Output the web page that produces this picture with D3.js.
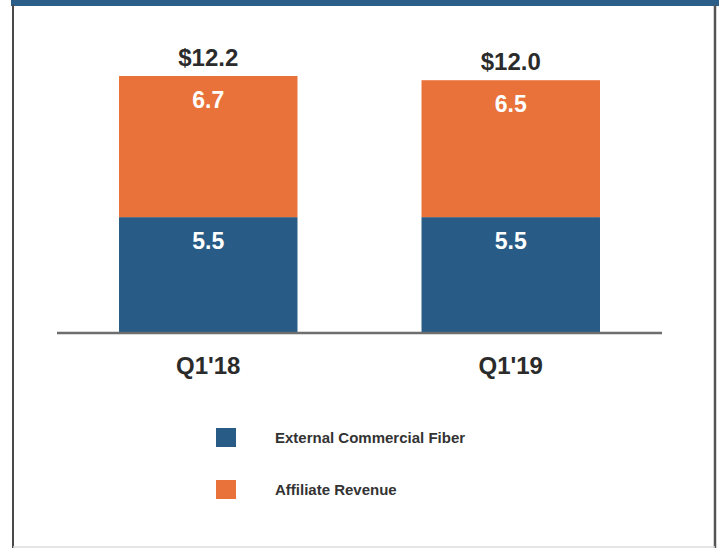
<!DOCTYPE html>
<html><head><meta charset="utf-8">
<script src="https://cdn.jsdelivr.net/npm/d3@7"></script>
<style>html,body{margin:0;padding:0;background:#fff;}svg{display:block;}</style>
</head><body>
<svg id="chart" width="719" height="548"></svg>
<script>
const categories = ["Q1'18", "Q1'19"];
const seriesNames = ["External Commercial Fiber", "Affiliate Revenue"];
const externalFiber = [5.5, 5.5];
const affiliateRevenue = [6.7, 6.5];
const totals = ["$12.2", "$12.0"];
const colors = ["#285c86", "#e8723a"];

const svg = d3.select("#chart");
const font = "'Liberation Sans', Arial, sans-serif";

// frame
svg.append("rect").attr("x", 11).attr("y", 0).attr("width", 708).attr("height", 6).attr("fill", "#2b5e88");
svg.append("line").attr("x1", 13).attr("x2", 13).attr("y1", 5).attr("y2", 548).attr("stroke", "#4a4a4a").attr("stroke-width", 2);
svg.append("line").attr("x1", 715).attr("x2", 715).attr("y1", 5).attr("y2", 548).attr("stroke", "#555").attr("stroke-width", 2.5);
svg.append("line").attr("x1", 13).attr("x2", 715).attr("y1", 547).attr("y2", 547).attr("stroke", "#ddd").attr("stroke-width", 1.5);

const x = d3.scaleBand().domain(categories).range([57, 662]).paddingInner(0.41).paddingOuter(0.205);
const y = d3.scaleLinear().domain([0, 12.2]).range([333, 76]);

const data = categories.map((c, i) => ({cat: c, a: externalFiber[i], b: affiliateRevenue[i], total: totals[i]}));
const stack = d3.stack().keys(["a", "b"])(data);

svg.append("g").selectAll("g").data(stack).join("g")
  .attr("fill", (d, i) => colors[i])
  .selectAll("rect").data(d => d).join("rect")
  .attr("x", d => x(d.data.cat))
  .attr("width", x.bandwidth())
  .attr("y", d => y(d[1]))
  .attr("height", d => y(d[0]) - y(d[1]));

// segment labels
stack.forEach((layer, li) => {
  svg.append("g").selectAll("text").data(layer).join("text")
    .attr("x", d => x(d.data.cat) + x.bandwidth() / 2)
    .attr("y", d => y(d[1]) + 32)
    .attr("text-anchor", "middle")
    .attr("font-family", font).attr("font-weight", "bold").attr("font-size", 23)
    .attr("fill", "#fff")
    .text(d => (d[1] - d[0]).toFixed(1));
});

// totals
svg.append("g").selectAll("text").data(data).join("text")
  .attr("x", d => x(d.cat) + x.bandwidth() / 2)
  .attr("y", d => y(d.a + d.b) - 10.5)
  .attr("text-anchor", "middle")
  .attr("font-family", font).attr("font-weight", "bold").attr("font-size", 24)
  .attr("fill", "#2b2b2b")
  .text(d => d.total);

// axis
const axis = svg.append("g").attr("transform", "translate(0,333)")
  .call(d3.axisBottom(x).tickSize(0).tickPadding(24).tickSizeOuter(0));
axis.select(".domain").attr("stroke", "#6e6e6e").attr("stroke-width", 2.5)
  .attr("d", "M57,0H662");
axis.selectAll("text").attr("font-family", font).attr("font-weight", "bold")
  .attr("font-size", 24).attr("fill", "#2b2b2b").attr("dy", "0.71em");

// legend
const legend = svg.append("g").selectAll("g").data(seriesNames).join("g")
  .attr("transform", (d, i) => `translate(216,${428 + i * 52})`);
legend.append("rect").attr("width", 20).attr("height", 19).attr("fill", (d, i) => colors[i]);
legend.append("text").attr("x", 59).attr("y", 10).attr("dy", "0.35em")
  .attr("font-family", font).attr("font-weight", "bold").attr("font-size", 15)
  .attr("fill", "#333").text(d => d);
</script>
</body></html>
